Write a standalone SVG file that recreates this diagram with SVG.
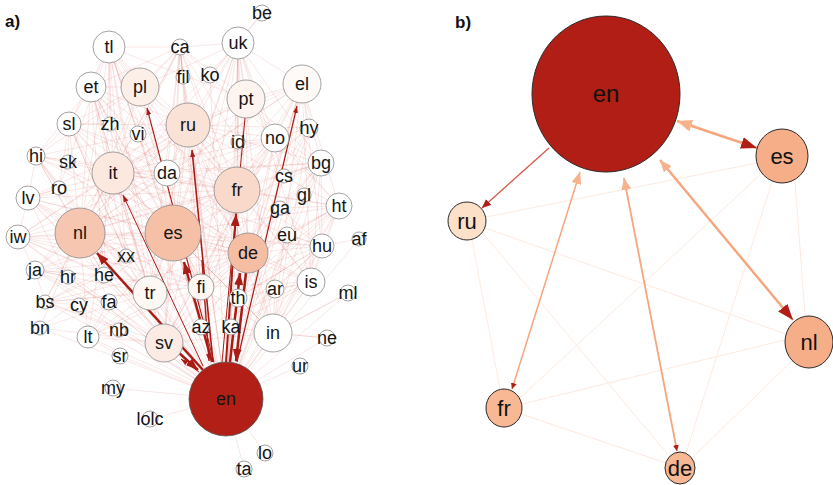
<svg xmlns="http://www.w3.org/2000/svg" width="833" height="485" viewBox="0 0 833 485">
<style>
.mesh path{fill:none;stroke:#c9302c;stroke-opacity:0.2;stroke-width:0.6}
.arr{fill:none;stroke:#a81c15}
.na circle{stroke:#8a8a8a;stroke-width:0.8;fill:#fff}
.ta{font-family:"Liberation Sans",Arial,sans-serif;font-size:18px;text-anchor:middle;fill:#151515}
.nb ellipse{stroke:#2a2a2a;stroke-width:1}
.tb{font-family:"Liberation Sans",Arial,sans-serif;font-size:22px;text-anchor:middle;fill:#111}
.faint{fill:none;stroke:#fde9de;stroke-width:1}
.sal{fill:none;stroke:#f7a57d}
.lbl{font-family:"Liberation Sans",Arial,sans-serif;font-size:17px;font-weight:bold;fill:#111}
</style>
<defs>
<marker id="aL" markerUnits="userSpaceOnUse" markerWidth="12" markerHeight="9" refX="12" refY="4.5" orient="auto"><path d="M0,0L12,4.5L0,9z" fill="#a81c15"/></marker>
<marker id="aS" markerUnits="userSpaceOnUse" markerWidth="7" markerHeight="5" refX="7" refY="2.5" orient="auto"><path d="M0,0L7,2.5L0,5z" fill="#a81c15"/></marker>
<marker id="bDL" markerUnits="userSpaceOnUse" markerWidth="16" markerHeight="12" refX="16" refY="6" orient="auto"><path d="M0,0L16,6L0,12z" fill="#b01e15"/></marker>
<marker id="bDM" markerUnits="userSpaceOnUse" markerWidth="9" markerHeight="8" refX="9" refY="4" orient="auto"><path d="M0,0L9,4L0,8z" fill="#b01e15"/></marker>
<marker id="bDS" markerUnits="userSpaceOnUse" markerWidth="6" markerHeight="6" refX="6" refY="3" orient="auto"><path d="M0,0L6,3L0,6z" fill="#b01e15"/></marker>
<marker id="bSL" markerUnits="userSpaceOnUse" markerWidth="15" markerHeight="12" refX="15" refY="6" orient="auto-start-reverse"><path d="M0,0L15,6L0,12z" fill="#f9b18c"/></marker>
<marker id="bSM" markerUnits="userSpaceOnUse" markerWidth="12" markerHeight="10" refX="12" refY="5" orient="auto-start-reverse"><path d="M0,0L12,5L0,10z" fill="#f9b18c"/></marker>
</defs>
<rect width="833" height="485" fill="#fff"/>
<text class="lbl" x="5" y="27">a)</text>
<text class="lbl" x="455" y="28">b)</text>

<g id="panel-a-mesh" class="mesh">
<path d="M226,399L109,47M226,399L180,47M226,399L238,43M226,399L183,77M226,399L210,75M226,399L91,87M226,399L140,87M226,399L302,84M226,399L246,99M226,399L188,125M226,399L69,124M226,399L110,124M226,399L138,134M226,399L309,128M226,399L275,138M226,399L238,142M226,399L36,156M226,399L68,162M226,399L321,163M226,399L113,173M226,399L167,173M226,399L284,176M226,399L59,188M226,399L237,190M226,399L304,195M226,399L28,198M226,399L339,206M226,399L280,208M226,399L80,233M226,399L173,233M226,399L287,235M226,399L18,237M226,399L359,239M226,399L322,246M226,399L248,253M226,399L126,256M226,399L35,270M226,399L104,275M226,399L68,277M226,399L311,282M226,399L201,287M226,399L275,289M226,399L150,293M226,399L348,293M226,399L238,298M226,399L45,302M226,399L109,302M226,399L79,305M226,399L201,327M226,399L231,327M226,399L40,328M226,399L119,330M226,399L273,333M226,399L88,337M226,399L327,338M226,399L164,343M226,399L120,356M226,399L300,366M226,399L113,388M226,399L150,419M226,399L265,453M226,399L244,469"/>
<path d="M109,47L140,87M109,47L188,125M109,47L113,173M109,47L167,173M109,47L80,233M109,47L173,233M109,47L237,190M109,47L248,253M109,47L150,293M109,47L164,343M109,47L110,124M109,47L138,134M109,47L201,287M109,47L91,87M109,47L69,124M109,47L180,47M109,47L246,99M109,47L126,256M109,47L104,275M109,47L59,188"/>
<path d="M180,47L140,87M180,47L188,125M180,47L113,173M180,47L167,173M180,47L173,233M180,47L237,190M180,47L248,253M180,47L201,287M180,47L150,293M180,47L164,343M180,47L246,99M180,47L238,43M180,47L91,87M180,47L80,233M180,47L275,138M180,47L183,77M180,47L138,134M180,47L201,327M180,47L238,142M180,47L110,124"/>
<path d="M238,43L140,87M238,43L188,125M238,43L113,173M238,43L167,173M238,43L173,233M238,43L237,190M238,43L248,253M238,43L201,287M238,43L238,298M238,43L246,99M238,43L275,138M238,43L302,84M238,43L164,343M238,43L80,233M238,43L150,293M238,43L262,13M238,43L210,75M238,43L238,142M238,43L231,327M238,43L273,333M238,43L311,282M238,43L284,176M238,43L321,163"/>
<path d="M91,87L140,87M91,87L188,125M91,87L113,173M91,87L80,233M91,87L173,233M91,87L167,173M91,87L237,190M91,87L150,293M91,87L164,343M91,87L110,124M91,87L69,124M91,87L248,253M91,87L126,256M91,87L104,275M91,87L201,287M91,87L36,156"/>
<path d="M302,84L246,99M302,84L188,125M302,84L237,190M302,84L248,253M302,84L173,233M302,84L275,138M302,84L321,163M302,84L322,246M302,84L311,282M302,84L273,333M302,84L113,173M302,84L167,173M302,84L339,206M302,84L309,128M302,84L238,298M302,84L231,327M302,84L164,343M302,84L284,176M302,84L80,233"/>
<path d="M69,124L113,173M69,124L80,233M69,124L173,233M69,124L188,125M69,124L167,173M69,124L150,293M69,124L164,343M69,124L237,190M69,124L140,87M69,124L248,253M69,124L36,156M69,124L68,162M69,124L110,124M69,124L59,188M69,124L126,256"/>
<path d="M36,156L113,173M36,156L80,233M36,156L173,233M36,156L167,173M36,156L150,293M36,156L164,343M36,156L237,190M36,156L188,125M36,156L140,87M36,156L248,253M36,156L28,198M36,156L59,188M36,156L104,275"/>
<path d="M28,198L80,233M28,198L173,233M28,198L113,173M28,198L150,293M28,198L164,343M28,198L201,287M28,198L237,190M28,198L248,253M28,198L188,125M28,198L59,188M28,198L126,256M28,198L167,173M28,198L18,237M28,198L68,277"/>
<path d="M18,237L80,233M18,237L173,233M18,237L113,173M18,237L150,293M18,237L164,343M18,237L201,287M18,237L248,253M18,237L237,190M18,237L188,125M18,237L35,270M18,237L126,256M18,237L104,275M18,237L167,173"/>
<path d="M35,270L80,233M35,270L173,233M35,270L150,293M35,270L164,343M35,270L201,287M35,270L248,253M35,270L113,173M35,270L237,190M35,270L68,277M35,270L104,275M35,270L188,125M35,270L109,302M35,270L45,302"/>
<path d="M45,302L80,233M45,302L173,233M45,302L150,293M45,302L164,343M45,302L201,287M45,302L113,173M45,302L79,305M45,302L248,253M45,302L104,275M45,302L119,330"/>
<path d="M321,163L237,190M321,163L248,253M321,163L173,233M321,163L188,125M321,163L246,99M321,163L275,138M321,163L273,333M321,163L311,282M321,163L113,173M321,163L167,173M321,163L322,246M321,163L284,176M321,163L304,195M321,163L238,298M321,163L164,343M321,163L201,287M321,163L80,233"/>
<path d="M339,206L237,190M339,206L248,253M339,206L173,233M339,206L188,125M339,206L311,282M339,206L273,333M339,206L322,246M339,206L275,138M339,206L246,99M339,206L113,173M339,206L287,235M339,206L280,208M339,206L238,298M339,206L201,287M339,206L231,327M339,206L164,343"/>
<path d="M322,246L248,253M322,246L237,190M322,246L173,233M322,246L311,282M322,246L273,333M322,246L188,125M322,246L275,289M322,246L80,233M322,246L287,235M322,246L238,298M322,246L231,327M322,246L113,173M322,246L201,287M322,246L164,343"/>
<path d="M311,282L248,253M311,282L237,190M311,282L173,233M311,282L273,333M311,282L188,125M311,282L231,327M311,282L238,298M311,282L113,173M311,282L275,289M311,282L201,287M311,282L164,343"/>
<path d="M273,333L248,253M273,333L237,190M273,333L173,233M273,333L188,125M273,333L231,327M273,333L238,298M273,333L275,289M273,333L201,287M273,333L113,173M273,333L164,343M273,333L348,293M273,333L327,338"/>
<path d="M275,138L237,190M275,138L248,253M275,138L173,233M275,138L188,125M275,138L113,173M275,138L167,173M275,138L80,233M275,138L238,142M275,138L246,99M275,138L164,343M275,138L201,287M275,138L150,293"/>
<path d="M309,128L237,190M309,128L248,253M309,128L173,233M309,128L188,125M309,128L273,333M309,128L275,138M309,128L164,343"/>
<path d="M88,337L164,343M88,337L173,233M88,337L80,233M88,337L150,293M88,337L201,287M88,337L113,173M88,337L119,330M88,337L109,302M88,337L248,253M88,337L120,356"/>
<path d="M40,328L164,343M40,328L80,233M40,328L173,233M40,328L150,293"/>
<path d="M80,233L173,233M80,233L113,173M80,233L188,125M80,233L140,87M80,233L237,190M80,233L248,253M80,233L150,293M80,233L164,343M80,233L201,287M80,233L167,173M80,233L104,275M80,233L109,302M80,233L126,256"/>
<path d="M173,233L113,173M173,233L188,125M173,233L140,87M173,233L237,190M173,233L248,253M173,233L150,293M173,233L164,343M173,233L201,287M173,233L167,173M173,233L246,99M173,233L238,298M173,233L231,327M173,233L201,327"/>
<path d="M188,125L113,173M188,125L140,87M188,125L237,190M188,125L248,253M188,125L164,343M188,125L167,173M188,125L246,99M188,125L150,293M188,125L201,287M188,125L238,298"/>
<path d="M237,190L248,253M237,190L164,343M237,190L113,173M237,190L246,99M237,190L150,293M237,190L167,173M237,190L140,87M237,190L201,287M237,190L238,298M237,190L201,327"/>
<path d="M113,173L248,253M113,173L164,343M113,173L150,293M113,173L167,173M113,173L140,87M113,173L201,287M113,173L246,99"/>
<path d="M248,253L164,343M248,253L150,293M248,253L140,87M248,253L246,99M248,253L201,287M248,253L201,327"/>
<path d="M359,239L322,246M348,293L273,333M327,338L273,333M262,13L238,43"/>
</g>

<g id="panel-a-connectors">
<path class="arr" stroke-width="1" d="M245,118L222,362"/>
<path class="arr" stroke-width="1" marker-end="url(#aS)" d="M203,366L123,195"/>
<path class="arr" stroke-width="1.1" marker-end="url(#aS)" d="M214,362L147,108"/>
<path class="arr" stroke-width="1.2" marker-end="url(#aS)" d="M237,362L297,106"/>
<path class="arr" stroke-width="1.6" marker-end="url(#aS)" d="M213,362L192,150"/>
<path class="arr" stroke-width="1.4" marker-end="url(#aS)" d="M202,260L209,361"/>
<path class="arr" stroke-width="1" marker-end="url(#aS)" d="M199,372L181,359"/>
<path class="arr" stroke-width="2.5" marker-end="url(#aL)" d="M203,370L97,253"/>
<path class="arr" stroke-width="2.5" marker-end="url(#aL)" d="M212,362L184,262"/>
<path class="arr" stroke-width="2" marker-end="url(#aL)" d="M226,362L236,214"/>
<path class="arr" stroke-width="2.5" marker-end="url(#aL)" d="M230,362L240,273"/>
<path class="arr" stroke-width="2.5" marker-end="url(#aL)" d="M246,273L236,361"/>
<path class="arr" stroke-width="2.5" marker-end="url(#aL)" d="M178,352L198,370"/>
</g>

<g id="a-be" class="na"><circle cx="262" cy="13" r="8"/><text class="ta" x="262" y="19">be</text></g>
<g id="a-ca" class="na"><circle cx="180" cy="47" r="8"/><text class="ta" x="180" y="53">ca</text></g>
<g id="a-fil" class="na"><circle cx="183" cy="77" r="7"/><text class="ta" x="183" y="83">fil</text></g>
<g id="a-ko" class="na"><circle cx="210" cy="75" r="8"/><text class="ta" x="210" y="81">ko</text></g>
<g id="a-tl" class="na"><circle cx="109" cy="47" r="16"/><text class="ta" x="109" y="53">tl</text></g>
<g id="a-uk" class="na"><circle cx="238" cy="43" r="16"/><text class="ta" x="238" y="49">uk</text></g>
<g id="a-et" class="na"><circle cx="91" cy="87" r="15"/><text class="ta" x="91" y="93">et</text></g>
<g id="a-pl" class="na"><circle cx="140" cy="87" r="19" style="fill:#fcefe8"/><text class="ta" x="140" y="93">pl</text></g>
<g id="a-el" class="na"><circle cx="302" cy="84" r="19" style="fill:#fefaf8"/><text class="ta" x="302" y="90">el</text></g>
<g id="a-pt" class="na"><circle cx="246" cy="99" r="19" style="fill:#fdf4f0"/><text class="ta" x="246" y="105">pt</text></g>
<g id="a-ru" class="na"><circle cx="188" cy="125" r="22" style="fill:#fbe2d6"/><text class="ta" x="188" y="131">ru</text></g>
<g id="a-sl" class="na"><circle cx="69" cy="124" r="12"/><text class="ta" x="69" y="130">sl</text></g>
<g id="a-zh" class="na"><circle cx="110" cy="124" r="7"/><text class="ta" x="110" y="130">zh</text></g>
<g id="a-vi" class="na"><circle cx="138" cy="134" r="8"/><text class="ta" x="138" y="140">vi</text></g>
<g id="a-hy" class="na"><circle cx="309" cy="128" r="9"/><text class="ta" x="309" y="134">hy</text></g>
<g id="a-no" class="na"><circle cx="275" cy="138" r="14"/><text class="ta" x="275" y="144">no</text></g>
<g id="a-id" class="na"><circle cx="238" cy="142" r="7"/><text class="ta" x="238" y="148">id</text></g>
<g id="a-hi" class="na"><circle cx="36" cy="156" r="9"/><text class="ta" x="36" y="162">hi</text></g>
<g id="a-sk" class="na"><circle cx="68" cy="162" r="7"/><text class="ta" x="68" y="168">sk</text></g>
<g id="a-bg" class="na"><circle cx="321" cy="163" r="13"/><text class="ta" x="321" y="169">bg</text></g>
<g id="a-it" class="na"><circle cx="113" cy="173" r="21" style="fill:#fce8df"/><text class="ta" x="113" y="179">it</text></g>
<g id="a-da" class="na"><circle cx="167" cy="173" r="13"/><text class="ta" x="167" y="179">da</text></g>
<g id="a-cs" class="na"><circle cx="284" cy="176" r="7"/><text class="ta" x="284" y="182">cs</text></g>
<g id="a-ro" class="na"><circle cx="59" cy="188" r="7"/><text class="ta" x="59" y="194">ro</text></g>
<g id="a-fr" class="na"><circle cx="237" cy="190" r="23" style="fill:#f9d9c9"/><text class="ta" x="237" y="196">fr</text></g>
<g id="a-gl" class="na"><circle cx="304" cy="195" r="7"/><text class="ta" x="304" y="201">gl</text></g>
<g id="a-lv" class="na"><circle cx="28" cy="198" r="12"/><text class="ta" x="28" y="204">lv</text></g>
<g id="a-ht" class="na"><circle cx="339" cy="206" r="13"/><text class="ta" x="339" y="212">ht</text></g>
<g id="a-ga" class="na"><circle cx="280" cy="208" r="7"/><text class="ta" x="280" y="214">ga</text></g>
<g id="a-nl" class="na"><circle cx="80" cy="233" r="25" style="fill:#f7c6b0"/><text class="ta" x="80" y="239">nl</text></g>
<g id="a-es" class="na"><circle cx="173" cy="233" r="28" style="fill:#f6c0a6"/><text class="ta" x="173" y="239">es</text></g>
<g id="a-eu" class="na"><circle cx="287" cy="235" r="8"/><text class="ta" x="287" y="241">eu</text></g>
<g id="a-iw" class="na"><circle cx="18" cy="237" r="12"/><text class="ta" x="18" y="243">iw</text></g>
<g id="a-af" class="na"><circle cx="359" cy="239" r="7"/><text class="ta" x="359" y="245">af</text></g>
<g id="a-hu" class="na"><circle cx="322" cy="246" r="12"/><text class="ta" x="322" y="252">hu</text></g>
<g id="a-de" class="na"><circle cx="248" cy="253" r="20" style="fill:#f5bea2"/><text class="ta" x="248" y="259">de</text></g>
<g id="a-xx" class="na"><circle cx="126" cy="256" r="7"/><text class="ta" x="126" y="262">xx</text></g>
<g id="a-ja" class="na"><circle cx="35" cy="270" r="9"/><text class="ta" x="35" y="276">ja</text></g>
<g id="a-he" class="na"><circle cx="104" cy="275" r="8"/><text class="ta" x="104" y="281">he</text></g>
<g id="a-hr" class="na"><circle cx="68" cy="277" r="7"/><text class="ta" x="68" y="283">hr</text></g>
<g id="a-is" class="na"><circle cx="311" cy="282" r="14"/><text class="ta" x="311" y="288">is</text></g>
<g id="a-fi" class="na"><circle cx="201" cy="287" r="13" style="fill:#fef8f5"/><text class="ta" x="201" y="293">fi</text></g>
<g id="a-ar" class="na"><circle cx="275" cy="289" r="9"/><text class="ta" x="275" y="295">ar</text></g>
<g id="a-tr" class="na"><circle cx="150" cy="293" r="17" style="fill:#fef8f5"/><text class="ta" x="150" y="299">tr</text></g>
<g id="a-ml" class="na"><circle cx="348" cy="293" r="8"/><text class="ta" x="348" y="299">ml</text></g>
<g id="a-th" class="na"><circle cx="238" cy="298" r="9"/><text class="ta" x="238" y="304">th</text></g>
<g id="a-bs" class="na"><circle cx="45" cy="302" r="7"/><text class="ta" x="45" y="308">bs</text></g>
<g id="a-fa" class="na"><circle cx="109" cy="302" r="8"/><text class="ta" x="109" y="308">fa</text></g>
<g id="a-cy" class="na"><circle cx="79" cy="305" r="7"/><text class="ta" x="79" y="311">cy</text></g>
<g id="a-az" class="na"><circle cx="201" cy="327" r="8"/><text class="ta" x="201" y="333">az</text></g>
<g id="a-ka" class="na"><circle cx="231" cy="327" r="8"/><text class="ta" x="231" y="333">ka</text></g>
<g id="a-bn" class="na"><circle cx="40" cy="328" r="7"/><text class="ta" x="40" y="334">bn</text></g>
<g id="a-nb" class="na"><circle cx="119" cy="330" r="7"/><text class="ta" x="119" y="336">nb</text></g>
<g id="a-in" class="na"><circle cx="273" cy="333" r="19"/><text class="ta" x="273" y="339">in</text></g>
<g id="a-lt" class="na"><circle cx="88" cy="337" r="11"/><text class="ta" x="88" y="343">lt</text></g>
<g id="a-ne" class="na"><circle cx="327" cy="338" r="8"/><text class="ta" x="327" y="344">ne</text></g>
<g id="a-sv" class="na"><circle cx="164" cy="343" r="19" style="fill:#fbebe4"/><text class="ta" x="164" y="349">sv</text></g>
<g id="a-sr" class="na"><circle cx="120" cy="356" r="8"/><text class="ta" x="120" y="362">sr</text></g>
<g id="a-ur" class="na"><circle cx="300" cy="366" r="8"/><text class="ta" x="300" y="372">ur</text></g>
<g id="a-my" class="na"><circle cx="113" cy="388" r="8"/><text class="ta" x="113" y="394">my</text></g>
<g id="a-en" class="na"><circle cx="226" cy="399" r="37" style="fill:#b21f16;stroke:#555"/><text class="ta" x="226" y="405">en</text></g>
<g id="a-lolc" class="na"><circle cx="150" cy="419" r="8"/><text class="ta" x="150" y="425">lolc</text></g>
<g id="a-lo" class="na"><circle cx="265" cy="453" r="8"/><text class="ta" x="265" y="459">lo</text></g>
<g id="a-ta" class="na"><circle cx="244" cy="469" r="8"/><text class="ta" x="244" y="475">ta</text></g>

<g id="panel-b-connectors">
<path class="faint" d="M486,217L757,163"/>
<path class="faint" d="M472,240L500,389"/>
<path class="faint" d="M482,232L669,456"/>
<path class="faint" d="M485,228L786,334"/>
<path class="faint" d="M762,173L520,398"/>
<path class="faint" d="M772,182L686,453"/>
<path class="faint" d="M795,180L805,316"/>
<path class="faint" d="M522,404L785,340"/>
<path class="faint" d="M521,414L666,463"/>
<path class="faint" d="M693,457L792,361"/>
<path class="sal" stroke-width="2.4" marker-start="url(#bSL)" marker-end="url(#bDL)" d="M677,121L757,148"/>
<path fill="none" stroke="#d8574a" stroke-width="1.3" marker-end="url(#bDM)" d="M549,148L482,208"/>
<path class="sal" stroke-width="1.5" marker-start="url(#bSM)" marker-end="url(#bDS)" d="M580,172L512,389"/>
<path class="sal" stroke-width="1.8" marker-start="url(#bSM)" marker-end="url(#bDS)" d="M624,178L677,451"/>
<path class="sal" stroke-width="2.4" marker-start="url(#bSM)" marker-end="url(#bDL)" d="M660,160L793,320"/>
</g>

<g id="b-en" class="nb"><ellipse cx="606" cy="94" rx="74" ry="78" fill="#b01e15"/><text class="tb" x="606" y="102" style="font-size:24px">en</text></g>
<g id="b-es" class="nb"><ellipse cx="782" cy="156" rx="26" ry="27" fill="#f5ae88"/><text class="tb" x="782" y="164">es</text></g>
<g id="b-ru" class="nb"><ellipse cx="467" cy="221" rx="19" ry="19" fill="#fce1c8"/><text class="tb" x="467" y="229">ru</text></g>
<g id="b-nl" class="nb"><ellipse cx="809" cy="342" rx="24" ry="26" fill="#f5ae88"/><text class="tb" x="809" y="350">nl</text></g>
<g id="b-fr" class="nb"><ellipse cx="504" cy="408" rx="18" ry="19" fill="#f7b893"/><text class="tb" x="504" y="416">fr</text></g>
<g id="b-de" class="nb"><ellipse cx="680" cy="468" rx="15" ry="16" fill="#f7b893"/><text class="tb" x="680" y="476">de</text></g>
</svg>
